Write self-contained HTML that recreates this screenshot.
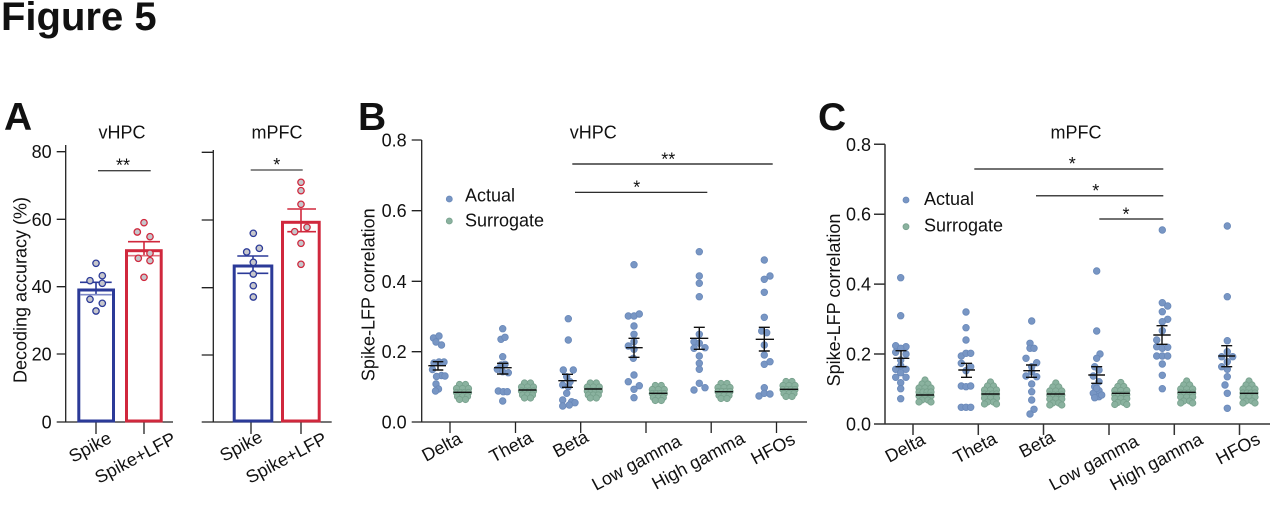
<!DOCTYPE html>
<html><head><meta charset="utf-8">
<style>
html,body{margin:0;padding:0;background:#fff;}
svg{display:block;}
text{font-family:"Liberation Sans",Arial,sans-serif;fill:#111;}
.b{font-weight:bold;}
</style></head>
<body>
<svg width="1270" height="506" viewBox="0 0 1270 506" xmlns="http://www.w3.org/2000/svg">
<defs>
<g id="sgB">
<circle cx="-3" cy="-7" r="3.2"/><circle cx="3" cy="-7" r="3.2"/>
<circle cx="-6" cy="-3" r="3.2"/><circle cx="0" cy="-3" r="3.2"/><circle cx="6" cy="-3" r="3.2"/>
<circle cx="-6" cy="1" r="3.2"/><circle cx="-2" cy="1" r="3.2"/><circle cx="2" cy="1" r="3.2"/><circle cx="6" cy="1" r="3.2"/>
<circle cx="-5" cy="5" r="3.2"/><circle cx="0" cy="5" r="3.2"/><circle cx="5" cy="5" r="3.2"/>
<circle cx="-3" cy="8" r="3.2"/><circle cx="3" cy="8" r="3.2"/>
</g>
<g id="sgC">
<circle cx="0" cy="-11" r="3.2"/>
<circle cx="-3" cy="-7" r="3.2"/><circle cx="3" cy="-7" r="3.2"/>
<circle cx="-6" cy="-3" r="3.2"/><circle cx="0" cy="-3" r="3.2"/><circle cx="6" cy="-3" r="3.2"/>
<circle cx="-6" cy="1" r="3.2"/><circle cx="-2" cy="1" r="3.2"/><circle cx="2" cy="1" r="3.2"/><circle cx="6" cy="1" r="3.2"/>
<circle cx="-6" cy="5" r="3.2"/><circle cx="0" cy="5" r="3.2"/><circle cx="6" cy="5" r="3.2"/>
<circle cx="-3" cy="9" r="3.2"/><circle cx="3" cy="9" r="3.2"/>
<circle cx="-6" cy="11" r="3.2"/><circle cx="6" cy="11" r="3.2"/>
</g>
</defs>

<!-- Title -->
<text x="1" y="30" class="b" font-size="40">Figure 5</text>

<!-- ================= PANEL A ================= -->
<text x="4" y="130" class="b" font-size="39">A</text>
<text x="122" y="138.3" font-size="18" text-anchor="middle">vHPC</text>
<text x="277" y="138.3" font-size="18" text-anchor="middle">mPFC</text>
<text transform="translate(26.5,290) rotate(-90)" font-size="18" text-anchor="middle">Decoding accuracy (%)</text>

<g stroke="#222" stroke-width="1.3" fill="none">
  <path d="M65.7 145 V422 M56.7 422 H173"/>
  <path d="M56.7 151.7 H65.7 M56.7 219.3 H65.7 M56.7 286.7 H65.7 M56.7 354 H65.7"/>
  <path d="M96 422 V434 M144 422 V434"/>
  <path d="M213.3 150 V422 M201.7 422 H331.7"/>
  <path d="M201.7 152.3 H213.3 M201.7 220 H213.3 M201.7 287.7 H213.3 M201.7 355 H213.3"/>
  <path d="M251 422 V434 M301 422 V434"/>
</g>
<g font-size="18" text-anchor="end">
  <text x="51.7" y="158.2">80</text>
  <text x="51.7" y="225.8">60</text>
  <text x="51.7" y="293.2">40</text>
  <text x="51.7" y="360.5">20</text>
  <text x="51.7" y="428.5">0</text>
</g>
<!-- bars -->
<rect x="78.8" y="290" width="34.7" height="131" fill="none" stroke="#2b3a98" stroke-width="3"/>
<rect x="126.5" y="250.7" width="34.7" height="170.3" fill="none" stroke="#d0283d" stroke-width="3"/>
<rect x="234.2" y="266" width="37.6" height="155" fill="none" stroke="#2b3a98" stroke-width="3"/>
<rect x="282.5" y="222.3" width="36.7" height="198.7" fill="none" stroke="#d0283d" stroke-width="3"/>
<!-- error bars A -->
<g stroke-width="1.6" fill="none">
  <path d="M96 282.3 V294.7 M80 282.3 H111.7" stroke="#2b3a98"/>
  <path d="M80 294.7 H111.7" stroke="#7e88c6"/>
  <path d="M144 241.7 V255.7 M128 241.7 H160" stroke="#d0283d"/>
  <path d="M128 255.7 H160" stroke="#e0707e"/>
  <path d="M253 256 V273.3 M237.3 256 H268.3 M237.3 273.3 H268.3" stroke="#2b3a98"/>
  <path d="M301 209 V231.7 M287.3 209 H316 M287.3 231.7 H316" stroke="#d0283d"/>
</g>
<!-- points A -->
<g fill="#c6c6cb" stroke="#2b3a98" stroke-width="1.3">
  <circle cx="96" cy="263.3" r="3.2"/><circle cx="90" cy="280.7" r="3.2"/><circle cx="102.3" cy="275.7" r="3.2"/>
  <circle cx="102.3" cy="283.3" r="3.2"/><circle cx="90" cy="299.3" r="3.2"/><circle cx="102.3" cy="303.3" r="3.2"/>
  <circle cx="96" cy="311" r="3.2"/>
  <circle cx="253.3" cy="233.3" r="3.2"/><circle cx="246.7" cy="252" r="3.2"/><circle cx="259.3" cy="248.3" r="3.2"/>
  <circle cx="253.3" cy="262.3" r="3.2"/><circle cx="253.3" cy="274" r="3.2"/><circle cx="253.3" cy="285.7" r="3.2"/>
  <circle cx="253.3" cy="297" r="3.2"/>
</g>
<g fill="#c6c6cb" stroke="#d0283d" stroke-width="1.3">
  <circle cx="144" cy="222.7" r="3.2"/><circle cx="137.3" cy="232" r="3.2"/><circle cx="150" cy="236.7" r="3.2"/>
  <circle cx="150" cy="253.3" r="3.2"/><circle cx="138.3" cy="258.3" r="3.2"/><circle cx="150" cy="260.7" r="3.2"/>
  <circle cx="144" cy="277.3" r="3.2"/>
  <circle cx="301" cy="182.3" r="3.2"/><circle cx="301" cy="190.7" r="3.2"/><circle cx="301" cy="204.3" r="3.2"/>
  <circle cx="294.7" cy="231.7" r="3.2"/><circle cx="307" cy="227.3" r="3.2"/><circle cx="301" cy="243.3" r="3.2"/>
  <circle cx="301" cy="264.3" r="3.2"/>
</g>
<!-- significance A -->
<g stroke="#444" stroke-width="1.3"><path d="M98 170.7 H150.7 M250.7 170 H302.7"/></g>
<text x="123" y="171.5" font-size="18" text-anchor="middle">**</text>
<text x="276.7" y="171" font-size="18" text-anchor="middle">*</text>
<!-- x labels A -->
<g font-size="18">
  <text transform="translate(73,463) rotate(-28)">Spike</text>
  <text transform="translate(99,484) rotate(-28)">Spike+LFP</text>
  <text transform="translate(224,462) rotate(-28)">Spike</text>
  <text transform="translate(250,484) rotate(-28)">Spike+LFP</text>
</g>

<!-- ================= PANEL B ================= -->
<text x="358" y="130" class="b" font-size="39">B</text>
<text x="593.3" y="138.3" font-size="18" text-anchor="middle">vHPC</text>
<text transform="translate(374.3,294.7) rotate(-90)" font-size="18" text-anchor="middle">Spike-LFP correlation</text>
<g stroke="#222" stroke-width="1.3" fill="none">
  <path d="M421.7 140 V422 M411.7 422 H807"/>
  <path d="M411.7 140 H421.7 M411.7 210.7 H421.7 M411.7 281.3 H421.7 M411.7 351.7 H421.7"/>
  <path d="M450 422 V433 M515.5 422 V433 M580.7 422 V433 M646 422 V433 M711.2 422 V433 M776.5 422 V433"/>
</g>
<g font-size="18" text-anchor="end">
  <text x="406.7" y="146.5">0.8</text>
  <text x="406.7" y="217.2">0.6</text>
  <text x="406.7" y="287.8">0.4</text>
  <text x="406.7" y="358.2">0.2</text>
  <text x="406.7" y="428.5">0.0</text>
</g>
<!-- legend B -->
<circle cx="449.3" cy="199" r="3" fill="#7896c4" stroke="#6a89b9" stroke-width="0.8"/>
<circle cx="449.3" cy="221" r="3" fill="#8ab29f" stroke="#77a08c" stroke-width="0.8"/>
<text x="465" y="201.7" font-size="18">Actual</text>
<text x="465" y="226.7" font-size="18">Surrogate</text>
<!-- significance B -->
<g stroke="#111" stroke-width="1.2"><path d="M572.3 164 H772.7 M575 192.3 H707.3"/></g>
<text x="668.3" y="165.5" font-size="18" text-anchor="middle">**</text>
<text x="636.7" y="193.5" font-size="18" text-anchor="middle">*</text>
<!-- surrogate clusters B -->
<g fill="#8ab29f" stroke="#77a08c" stroke-width="0.8">
  <use href="#sgB" x="462.5" y="391.5"/>
  <use href="#sgB" x="527.5" y="390"/>
  <use href="#sgB" x="593.3" y="390"/>
  <use href="#sgB" x="658.3" y="392.5"/>
  <use href="#sgB" x="724" y="390.5"/>
  <use href="#sgB" x="789" y="388.5"/>
</g>
<!-- actual points B -->
<g fill="#7896c4" stroke="#6a89b9" stroke-width="0.8">
  <circle cx="433.5" cy="338" r="3.3"/><circle cx="439" cy="336" r="3.3"/><circle cx="436" cy="342" r="3.3"/><circle cx="441.5" cy="345" r="3.3"/><circle cx="434" cy="363" r="3.3"/><circle cx="439" cy="362" r="3.3"/><circle cx="444" cy="362" r="3.3"/><circle cx="432.5" cy="369.5" r="3.3"/><circle cx="441.5" cy="375.5" r="3.3"/><circle cx="436.5" cy="376.5" r="3.3"/><circle cx="445" cy="376" r="3.3"/><circle cx="436" cy="384" r="3.3"/><circle cx="438.5" cy="389" r="3.3"/><circle cx="435.5" cy="391" r="3.3"/>
  <circle cx="502.7" cy="328.7" r="3.3"/><circle cx="501" cy="339.3" r="3.3"/><circle cx="505" cy="337.3" r="3.3"/><circle cx="502.7" cy="356.7" r="3.3"/><circle cx="501" cy="365" r="3.3"/><circle cx="505" cy="364.3" r="3.3"/><circle cx="497.3" cy="369.3" r="3.3"/><circle cx="502.7" cy="371.7" r="3.3"/><circle cx="508.3" cy="372.7" r="3.3"/><circle cx="498.3" cy="391" r="3.3"/><circle cx="503.3" cy="391.7" r="3.3"/><circle cx="507.3" cy="391.7" r="3.3"/><circle cx="502.7" cy="401" r="3.3"/>
  <circle cx="568.3" cy="318.7" r="3.3"/><circle cx="568.3" cy="340" r="3.3"/><circle cx="563.3" cy="370" r="3.3"/><circle cx="573.3" cy="370" r="3.3"/><circle cx="566.7" cy="376.7" r="3.3"/><circle cx="570" cy="381.7" r="3.3"/><circle cx="562.7" cy="385" r="3.3"/><circle cx="568.3" cy="386.7" r="3.3"/><circle cx="566.7" cy="393.3" r="3.3"/><circle cx="562.7" cy="400" r="3.3"/><circle cx="571.7" cy="401.7" r="3.3"/><circle cx="575" cy="402.7" r="3.3"/><circle cx="562.7" cy="406" r="3.3"/><circle cx="569.3" cy="405" r="3.3"/>
  <circle cx="634" cy="264.7" r="3.3"/><circle cx="628.3" cy="316" r="3.3"/><circle cx="634" cy="316" r="3.3"/><circle cx="639.3" cy="314" r="3.3"/><circle cx="634" cy="326" r="3.3"/><circle cx="634" cy="334.3" r="3.3"/><circle cx="634" cy="341.7" r="3.3"/><circle cx="628.3" cy="346" r="3.3"/><circle cx="634" cy="349.3" r="3.3"/><circle cx="633.3" cy="358.3" r="3.3"/><circle cx="634" cy="375" r="3.3"/><circle cx="628.3" cy="381.7" r="3.3"/><circle cx="639.3" cy="385.7" r="3.3"/><circle cx="634" cy="389.3" r="3.3"/><circle cx="634" cy="397.7" r="3.3"/>
  <circle cx="699.3" cy="251.7" r="3.3"/><circle cx="699.3" cy="276" r="3.3"/><circle cx="699.3" cy="283.3" r="3.3"/><circle cx="699.3" cy="296.7" r="3.3"/><circle cx="699.3" cy="334.3" r="3.3"/><circle cx="694" cy="341.7" r="3.3"/><circle cx="699.3" cy="343.3" r="3.3"/><circle cx="694" cy="348.3" r="3.3"/><circle cx="705" cy="347.7" r="3.3"/><circle cx="699.3" cy="356" r="3.3"/><circle cx="699.3" cy="363.3" r="3.3"/><circle cx="699.3" cy="369.3" r="3.3"/><circle cx="699.3" cy="383.3" r="3.3"/><circle cx="694" cy="390" r="3.3"/><circle cx="705" cy="387.7" r="3.3"/>
  <circle cx="764.3" cy="260" r="3.3"/><circle cx="764.3" cy="279.3" r="3.3"/><circle cx="770" cy="276" r="3.3"/><circle cx="764.3" cy="292.3" r="3.3"/><circle cx="764.3" cy="317.3" r="3.3"/><circle cx="761.7" cy="331" r="3.3"/><circle cx="766.7" cy="332.7" r="3.3"/><circle cx="764.3" cy="345" r="3.3"/><circle cx="764.3" cy="355" r="3.3"/><circle cx="764.3" cy="364.3" r="3.3"/><circle cx="770" cy="361.7" r="3.3"/><circle cx="764.3" cy="387.7" r="3.3"/><circle cx="759" cy="396" r="3.3"/><circle cx="764.3" cy="393.3" r="3.3"/><circle cx="770" cy="394" r="3.3"/>
</g>
<!-- error bars B -->
<g stroke="#111" stroke-width="1.4" fill="none">
  <path d="M428.3 365.7 H446 M438 361.7 V370 M432.7 361.7 H443.3 M432.7 370 H443.3"/>
  <path d="M494 367.7 H511.7 M502.7 363.3 V374 M497 363.3 H508.4 M497 374 H508.4"/>
  <path d="M558.3 380.7 H576.7 M567.5 374.3 V387.3 M562 374.3 H573 M562 387.3 H573"/>
  <path d="M626 347.7 H642.7 M634 338.3 V357.3 M628.5 338.3 H639.5 M628.5 357.3 H639.5"/>
  <path d="M690 338.3 H708.3 M699.3 327.3 V349.3 M693.8 327.3 H704.8 M693.8 349.3 H704.8"/>
  <path d="M755.7 339.3 H774 M764.3 327.3 V351 M758.8 327.3 H769.8 M758.8 351 H769.8"/>
  <path d="M453.5 392.3 H471.5 M518.5 390 H536.5 M584.3 389 H602.3 M649.3 393.3 H667.3 M715 391.7 H733 M780 389.3 H798"/>
</g>
<!-- x labels B -->
<g font-size="18">
  <text transform="translate(426,462) rotate(-28)">Delta</text>
  <text transform="translate(493.5,463) rotate(-28)">Theta</text>
  <text transform="translate(557,458) rotate(-28)">Beta</text>
  <text transform="translate(596,491) rotate(-28)">Low gamma</text>
  <text transform="translate(656,490) rotate(-28)">High gamma</text>
  <text transform="translate(755,465) rotate(-28)">HFOs</text>
</g>

<!-- ================= PANEL C ================= -->
<text x="818" y="130" class="b" font-size="39">C</text>
<text x="1076" y="138.3" font-size="18" text-anchor="middle">mPFC</text>
<text transform="translate(840,300) rotate(-90)" font-size="18" text-anchor="middle">Spike-LFP correlation</text>
<g stroke="#333" stroke-width="1.5" fill="none">
  <path d="M885 144.3 V424 M874 424 H1270"/>
  <path d="M874 144.3 H885 M874 214.2 H885 M874 284.1 H885 M874 354 H885"/>
  <path d="M913 424 V435 M978.3 424 V435 M1043.5 424 V435 M1109 424 V435 M1174.3 424 V435 M1239.5 424 V435"/>
</g>
<g font-size="18" text-anchor="end">
  <text x="871" y="150.8">0.8</text>
  <text x="871" y="220.7">0.6</text>
  <text x="871" y="290.6">0.4</text>
  <text x="871" y="360.5">0.2</text>
  <text x="871" y="430.5">0.0</text>
</g>
<!-- legend C -->
<circle cx="906" cy="200" r="3" fill="#7896c4" stroke="#6a89b9" stroke-width="0.8"/>
<circle cx="906" cy="226.7" r="3" fill="#8ab29f" stroke="#77a08c" stroke-width="0.8"/>
<text x="924" y="205" font-size="18">Actual</text>
<text x="924" y="231.7" font-size="18">Surrogate</text>
<!-- significance C -->
<g stroke="#444" stroke-width="1.5"><path d="M974.3 169 H1163.3 M1036 195.7 H1163.3 M1099.3 219 H1163.3"/></g>
<text x="1072.3" y="170" font-size="18" text-anchor="middle">*</text>
<text x="1095.7" y="197" font-size="18" text-anchor="middle">*</text>
<text x="1126" y="220.3" font-size="18" text-anchor="middle">*</text>
<!-- surrogate clusters C -->
<g fill="#8ab29f" stroke="#77a08c" stroke-width="0.8">
  <use href="#sgC" x="925" y="391"/>
  <use href="#sgC" x="990.5" y="393"/>
  <use href="#sgC" x="1055.8" y="394"/>
  <use href="#sgC" x="1120.8" y="393.5"/>
  <use href="#sgC" x="1186.7" y="392"/>
  <use href="#sgC" x="1249" y="392"/>
</g>
<!-- actual points C -->
<g fill="#7896c4" stroke="#6a89b9" stroke-width="0.8">
  <circle cx="900.7" cy="277.7" r="3.3"/><circle cx="900.7" cy="315.7" r="3.3"/><circle cx="895.7" cy="345.7" r="3.3"/><circle cx="906" cy="346.7" r="3.3"/><circle cx="900.7" cy="348.3" r="3.3"/><circle cx="895.7" cy="352.3" r="3.3"/><circle cx="906" cy="354" r="3.3"/><circle cx="900.7" cy="360" r="3.3"/><circle cx="900.7" cy="365.7" r="3.3"/><circle cx="895.7" cy="369.3" r="3.3"/><circle cx="906" cy="369.3" r="3.3"/><circle cx="900.7" cy="372.7" r="3.3"/><circle cx="895.7" cy="377.3" r="3.3"/><circle cx="906" cy="377.3" r="3.3"/><circle cx="900.7" cy="382.7" r="3.3"/><circle cx="900.7" cy="388.7" r="3.3"/><circle cx="900.7" cy="398.7" r="3.3"/>
  <circle cx="966" cy="312" r="3.3"/><circle cx="966" cy="327.7" r="3.3"/><circle cx="966" cy="340" r="3.3"/><circle cx="961.3" cy="356" r="3.3"/><circle cx="966" cy="353.3" r="3.3"/><circle cx="970.7" cy="353.3" r="3.3"/><circle cx="961.3" cy="363.3" r="3.3"/><circle cx="970.7" cy="366.7" r="3.3"/><circle cx="966" cy="370.7" r="3.3"/><circle cx="961.3" cy="386" r="3.3"/><circle cx="966" cy="386.7" r="3.3"/><circle cx="970.7" cy="386" r="3.3"/><circle cx="961.3" cy="407.3" r="3.3"/><circle cx="966" cy="407.3" r="3.3"/><circle cx="970.7" cy="407.3" r="3.3"/>
  <circle cx="1031.7" cy="321" r="3.3"/><circle cx="1030" cy="343.3" r="3.3"/><circle cx="1030" cy="348.3" r="3.3"/><circle cx="1034" cy="348.3" r="3.3"/><circle cx="1026" cy="358.3" r="3.3"/><circle cx="1036.7" cy="362.7" r="3.3"/><circle cx="1031.7" cy="366.7" r="3.3"/><circle cx="1031.7" cy="371.7" r="3.3"/><circle cx="1026" cy="376" r="3.3"/><circle cx="1036.7" cy="376.7" r="3.3"/><circle cx="1031.7" cy="384" r="3.3"/><circle cx="1031.7" cy="391.7" r="3.3"/><circle cx="1031.7" cy="400" r="3.3"/><circle cx="1034" cy="409.3" r="3.3"/><circle cx="1030" cy="414" r="3.3"/>
  <circle cx="1096.7" cy="271" r="3.3"/><circle cx="1096.7" cy="331" r="3.3"/><circle cx="1100" cy="354" r="3.3"/><circle cx="1096.7" cy="358.3" r="3.3"/><circle cx="1094.7" cy="366.7" r="3.3"/><circle cx="1099" cy="370" r="3.3"/><circle cx="1093.3" cy="376" r="3.3"/><circle cx="1099" cy="381.7" r="3.3"/><circle cx="1094.7" cy="386.7" r="3.3"/><circle cx="1099" cy="390.7" r="3.3"/><circle cx="1093.3" cy="393.3" r="3.3"/><circle cx="1099" cy="396.7" r="3.3"/><circle cx="1094.7" cy="397.7" r="3.3"/><circle cx="1101.7" cy="395" r="3.3"/><circle cx="1096.7" cy="388.3" r="3.3"/>
  <circle cx="1162.3" cy="230" r="3.3"/><circle cx="1162.3" cy="302.7" r="3.3"/><circle cx="1167.7" cy="306" r="3.3"/><circle cx="1162.3" cy="311.7" r="3.3"/><circle cx="1167.7" cy="319.3" r="3.3"/><circle cx="1162.3" cy="321.7" r="3.3"/><circle cx="1162.3" cy="330.7" r="3.3"/><circle cx="1156.7" cy="346.7" r="3.3"/><circle cx="1162.3" cy="348.3" r="3.3"/><circle cx="1167.7" cy="347.3" r="3.3"/><circle cx="1156.7" cy="356" r="3.3"/><circle cx="1162.3" cy="356" r="3.3"/><circle cx="1167.7" cy="356" r="3.3"/><circle cx="1162.3" cy="364" r="3.3"/><circle cx="1162.3" cy="375.3" r="3.3"/><circle cx="1162.3" cy="388.7" r="3.3"/><circle cx="1156.7" cy="340" r="3.3"/>
  <circle cx="1227.3" cy="226" r="3.3"/><circle cx="1227.3" cy="296.7" r="3.3"/><circle cx="1227.3" cy="340.7" r="3.3"/><circle cx="1227.3" cy="351.7" r="3.3"/><circle cx="1221.7" cy="356.7" r="3.3"/><circle cx="1232.7" cy="356.7" r="3.3"/><circle cx="1227.3" cy="361.7" r="3.3"/><circle cx="1221.7" cy="366.7" r="3.3"/><circle cx="1227.3" cy="369.3" r="3.3"/><circle cx="1227.3" cy="376.7" r="3.3"/><circle cx="1225" cy="385" r="3.3"/><circle cx="1227.3" cy="393.3" r="3.3"/><circle cx="1227.3" cy="408.3" r="3.3"/>
</g>
<!-- error bars C -->
<g stroke="#111" stroke-width="1.4" fill="none">
  <path d="M893.3 358.3 H909.3 M901 350.7 V366.7 M895.5 350.7 H906.5 M895.5 366.7 H906.5"/>
  <path d="M958.3 370 H975 M966.5 363.3 V377.3 M961 363.3 H972 M961 377.3 H972"/>
  <path d="M1023.3 370.7 H1040 M1031.5 365 V377.3 M1026 365 H1037 M1026 377.3 H1037"/>
  <path d="M1088.3 375 H1105 M1096.7 366.7 V383.3 M1091.2 366.7 H1102.2 M1091.2 383.3 H1102.2"/>
  <path d="M1153.3 335 H1170.7 M1162 325.7 V344.3 M1156.5 325.7 H1167.5 M1156.5 344.3 H1167.5"/>
  <path d="M1218.3 356 H1235 M1226.7 345.7 V366.7 M1221.2 345.7 H1232.2 M1221.2 366.7 H1232.2"/>
  <path d="M916 395 H934 M981.5 394 H999.5 M1046.8 394 H1064.8 M1111.8 393.3 H1129.8 M1177.7 392.3 H1195.7 M1240 393.3 H1258"/>
</g>
<!-- x labels C -->
<g font-size="18">
  <text transform="translate(889.3,463) rotate(-28)">Delta</text>
  <text transform="translate(957.5,464) rotate(-28)">Theta</text>
  <text transform="translate(1023.3,458.3) rotate(-28)">Beta</text>
  <text transform="translate(1053.3,491) rotate(-28)">Low gamma</text>
  <text transform="translate(1114,491) rotate(-28)">High gamma</text>
  <text transform="translate(1220,465) rotate(-28)">HFOs</text>
</g>
</svg>
</body></html>
